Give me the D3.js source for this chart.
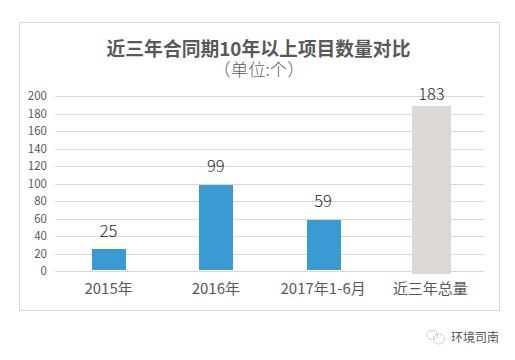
<!DOCTYPE html>
<html><head><meta charset="utf-8">
<script src="https://cdn.jsdelivr.net/npm/d3@7"></script>
<style>html,body{margin:0;padding:0;background:#fff}svg{display:block}text{font-family:"Noto Sans CJK SC","Noto Sans",sans-serif}</style>
</head><body><svg id="c" width="515" height="360"></svg>
<script>
const categories=["2015年","2016年","2017年1-6月","近三年总量"];
const values=[25,99,59,183];
const yTicks=[0,20,40,60,80,100,120,140,160,180,200];
const titleText="近三年合同期10年以上项目数量对比";
const subtitleText="（单位:个）";
const watermarkText="环境司南";

const svg=d3.select("#c");
svg.append("rect").attr("x",19.5).attr("y",22.5).attr("width",480).attr("height",288).attr("fill","#fff").attr("stroke","#d9d9d9");
const x=d3.scaleBand().domain(categories).range([55,484]);
const y=d3.scaleLinear().domain([0,200]).rangeRound([271,96]);
const yBar=d3.scaleLinear().domain([0,200]).range([271,96]);

svg.append("text").attr("x",258.5).attr("y",56).attr("text-anchor","middle").attr("font-size",18.8).attr("font-weight",700).attr("fill","#595959").text(titleText);
svg.append("text").attr("x",259).attr("y",76).attr("text-anchor","middle").attr("font-size",17.4).attr("font-weight",300).attr("fill","#5f5f5f").text(subtitleText);

const axis=svg.append("g").attr("transform","translate(55,0)").call(d3.axisLeft(y).tickValues(yTicks).tickSize(-429).tickPadding(8));
axis.select(".domain").remove();
axis.selectAll("line").attr("stroke","#d9d9d9").attr("stroke-width",1);
axis.selectAll("text").attr("font-size",11.5).attr("fill","#595959");

const isTotal=(d,i)=>i===values.length-1;
const bw=(d,i)=>isTotal(d,i)?39:34;
const overTop=(d,i)=>isTotal(d,i)?5:0;
const overBottom=(d,i)=>isTotal(d,i)?3:-1;
const cx=c=>x(c)+x.bandwidth()/2;
const barTop=(d,i)=>Math.round(yBar(d)-overTop(d,i)+0.3);
svg.selectAll("rect.bar").data(values).join("rect").attr("class","bar")
 .attr("x",(d,i)=>Math.round(cx(categories[i])+(isTotal(d,i)?1.5:0.5)-bw(d,i)/2))
 .attr("width",bw)
 .attr("y",barTop)
 .attr("height",(d,i)=>Math.round(y(0)+overBottom(d,i))-barTop(d,i))
 .attr("fill",(d,i)=>isTotal(d,i)?"#dcd9d5":"#3a9bd2");
svg.selectAll("text.val").data(values).join("text").attr("class","val")
 .attr("x",(d,i)=>cx(categories[i])+(isTotal(d,i)?1:0))
 .attr("y",(d,i)=>y(d)-(isTotal(d,i)?11:12.5))
 .attr("text-anchor","middle").attr("font-size",16.5).attr("font-weight",300).attr("fill","#262626").text(d=>d);
svg.selectAll("text.cat").data(categories).join("text").attr("class","cat")
 .attr("x",c=>cx(c)).attr("y",294).attr("text-anchor","middle").attr("font-size",15).attr("fill","#595959").text(c=>c);

const wm=svg.append("g").attr("fill","none").attr("stroke","#9a9a9a").attr("stroke-width",0.8).attr("stroke-dasharray","1.5 1");
wm.append("ellipse").attr("cx",432).attr("cy",335).attr("rx",5.5).attr("ry",4.5);
wm.append("ellipse").attr("cx",439).attr("cy",339).attr("rx",5.5).attr("ry",5);
svg.append("text").attr("x",451).attr("y",342).attr("font-size",12).attr("fill","#555").text(watermarkText);
</script></body></html>
